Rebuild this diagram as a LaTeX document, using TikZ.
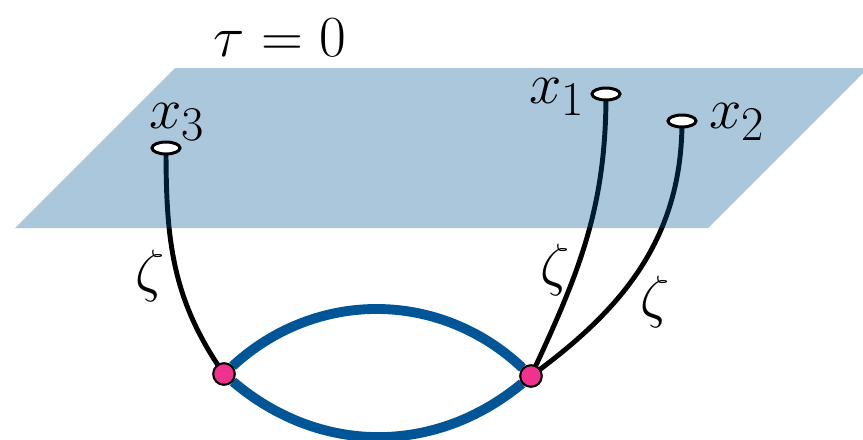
\documentclass[tikz,border=0pt]{standalone}
\usepackage{amsmath}
\usepackage{xcolor}
\usepackage{tikz}
\usetikzlibrary{shapes.geometric}
\definecolor{loopblue}{RGB}{0,85,150}
\definecolor{vertpink}{RGB}{240,50,140}
\tikzset{
  plane/.style={fill=loopblue, fill opacity=0.33, draw=none},
  endpt/.style={draw, ellipse, fill=white, line width=1.7pt, minimum width=5.6mm, minimum height=2.4mm, inner sep=0pt},
  vertex/.style={draw, circle, fill=vertpink, line width=1.1pt, minimum size=4.3mm, inner sep=0pt},
  leg/.style={line width=2.8pt, black},
  loopline/.style={line width=5.6pt, loopblue},
  lbl/.style={font=\Huge, scale=1.33, transform shape, inner sep=0pt}
}

\begin{document}
\begin{tikzpicture}[x=0.2mm,y=0.2mm]
  \clip (0,0) rectangle (863,-439);

  % vertices and end points
  \node[vertex] (dl) at (224,-374) {};
  \node[vertex] (dr) at (531,-376) {};
  \coordinate (x3p) at (166,-148);
  \coordinate (x1p) at (606,-94);
  \coordinate (x2p) at (682,-121);

  % legs run below the tau = 0 plane
  \draw[leg] (x3p) to[out=-90, in=125] (dl.center);
  \draw[leg] (x1p) to[out=-90, in=65] (dr.center);
  \draw[leg] (x2p) to[out=-90, in=36] (dr.center);

  \fill[plane] (15,-228) -- (175,-68) -- (868,-68) -- (708,-228) -- cycle;

  \draw[loopline] (dl) to[bend left=43] (dr);
  \draw[loopline] (dl) to[bend right=40] (dr);
  \node[vertex] at (dl) {};
  \node[vertex] at (dr) {};

  \node[endpt] (x3) at (x3p) {};
  \node[endpt] (x1) at (x1p) {};
  \node[endpt] (x2) at (x2p) {};

  \node[lbl] (tau) at (280,-38) {$\tau=0$};
  \node[lbl] (x3lbl) at (177,-122) {$x_3$};
  \node[lbl] (x1lbl) at (557,-97) {$x_1$};
  \node[lbl] (x2lbl) at (737,-122) {$x_2$};
  \node[lbl] (z3) at (150,-276) {$\zeta$};
  \node[lbl] (z1) at (555,-270) {$\zeta$};
  \node[lbl] (z2) at (655,-302) {$\zeta$};
\end{tikzpicture}
\end{document}
